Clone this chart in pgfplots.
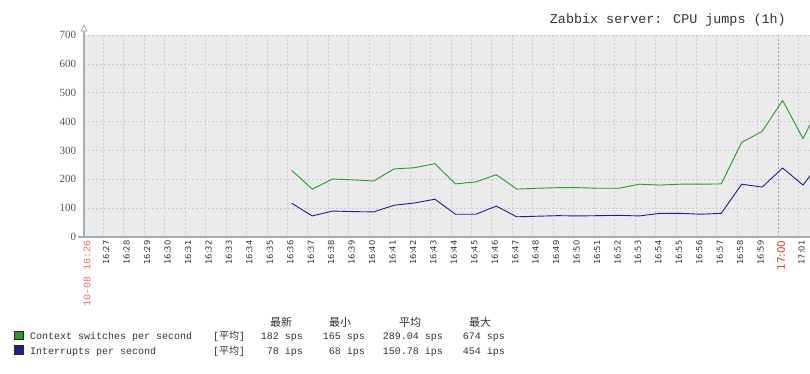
\documentclass[border=0pt]{standalone}
\usepackage{pgfplots}
\pgfplotsset{compat=1.18}
\usepackage{fontspec}
\setmainfont{Liberation Sans}
\newfontfamily\mono{Liberation Mono}
\newfontfamily\serifn{Liberation Serif}
\newfontfamily\dejavu{DejaVu Sans}
\newfontfamily\cjk{Noto Sans CJK SC}
\definecolor{bgc}{HTML}{EBEBEB}
\definecolor{gridc}{HTML}{C6CED4}
\definecolor{gridd}{HTML}{9AA4AC}
\definecolor{axc}{HTML}{A3ADB5}
\definecolor{greenc}{HTML}{1FA01F}
\definecolor{bluec}{HTML}{1C1C9E}
\definecolor{redl}{HTML}{F06A6A}
\definecolor{redd}{HTML}{E83535}
\definecolor{txt}{HTML}{333333}
\definecolor{ytxt}{HTML}{555555}
\begin{document}
\begin{tikzpicture}[x=1pt,y=1pt]
\useasboundingbox (0,0) rectangle (810,373);
\begin{axis}[
  name=ax,
  at={(84pt,136pt)}, anchor=south west,
  scale only axis, width=726pt, height=202pt,
  xmin=0.06, xmax=35.56, ymin=0, ymax=700,
  axis line style={draw=none},
  axis background/.style={fill=bgc},
  major tick length=0pt,
  grid=major,
  major grid style={draw=gridc, dash pattern=on 2pt off 2pt, line width=0.6pt},
  xtick={0.06,1,2,3,4,5,6,7,8,9,10,11,12,13,14,15,16,17,18,19,20,21,22,23,24,25,26,27,28,29,30,31,32,33,35},
  xticklabels={{\color{redl}\mono\fontsize{10}{11}\selectfont 10-08 16:26},16:27,16:28,16:29,16:30,16:31,16:32,16:33,16:34,16:35,16:36,16:37,16:38,16:39,16:40,16:41,16:42,16:43,16:44,16:45,16:46,16:47,16:48,16:49,16:50,16:51,16:52,16:53,16:54,16:55,16:56,16:57,16:58,16:59,17:01},
  xticklabel style={rotate=90, anchor=east, yshift=-3pt, text=txt, font=\dejavu\fontsize{8.3}{9}\selectfont},
  extra x ticks={34},
  extra x tick labels={17:00},
  extra x tick style={grid=major, major grid style={draw=gridd, dash pattern=on 2pt off 2pt, line width=0.6pt},
    xticklabel style={text=redd, font=\dejavu\fontsize{10.4}{11}\selectfont}},
  ytick={0,100,...,700},
  yticklabel style={anchor=east, xshift=-4.3pt, text=ytxt, font=\serifn\fontsize{11}{12}\selectfont, /pgf/number format/assume math mode=true},
]
\addplot[color=greenc, line width=0.9pt] coordinates {
(10.22,231)(11.22,166)(12.22,201)(13.22,198)(14.22,194)(15.22,236)(16.22,240)(17.22,254)(18.22,184)(19.22,191)(20.22,216)(21.22,166)(22.22,169)(23.22,171)(24.22,171)(25.22,169)(26.22,169)(27.22,183)(28.22,180)(29.22,183)(30.22,183)(31.22,184)(32.22,328)(33.22,366)(34.22,473)(35.22,341)(36.22,485)};
\addplot[color=bluec, line width=0.9pt] coordinates {
(10.22,117)(11.22,73)(12.22,90)(13.22,88)(14.22,87)(15.22,110)(16.22,118)(17.22,131)(18.22,79)(19.22,79)(20.22,107)(21.22,70)(22.22,72)(23.22,74)(24.22,73)(25.22,74)(26.22,75)(27.22,73)(28.22,82)(29.22,82)(30.22,79)(31.22,82)(32.22,183)(33.22,173)(34.22,239)(35.22,180)(36.22,275)};
\end{axis}
% axis lines
\draw[axc, line width=1.2pt] (78,136) -- (810,136);
\draw[axc, line width=1.2pt] (84,136) -- (84,342);
\draw[axc, line width=0.8pt, fill=white] (81,342) -- (87,342) -- (84,348) -- cycle;
% title
\node[anchor=base east, inner sep=0, text=txt, font=\mono\fontsize{13.4}{14}\selectfont] at (786,349) {Zabbix server: CPU jumps (1h)};
% legend
\draw[fill=greenc, draw=black!85, line width=0.8pt] (14.5,33.5) rectangle (23.5,42);
\draw[fill=bluec, draw=black!85, line width=0.8pt] (14.5,19) rectangle (23.5,27.5);
\begin{scope}[every node/.style={inner sep=0, text=txt, font=\mono\fontsize{10}{11}\selectfont}]
\node[anchor=base] at (281,47) {\cjk\fontsize{11}{12}\selectfont 最新};
\node[anchor=base] at (340,47) {\cjk\fontsize{11}{12}\selectfont 最小};
\node[anchor=base] at (410,47) {\cjk\fontsize{11}{12}\selectfont 平均};
\node[anchor=base] at (480,47) {\cjk\fontsize{11}{12}\selectfont 最大};
\node[anchor=base west] at (30,34) {Context switches per second};
\node[anchor=base west] at (213,34) {[{\cjk 平均}]};
\node[anchor=base east] at (303,34) {182 sps};
\node[anchor=base east] at (365,34) {165 sps};
\node[anchor=base east] at (443,34) {289.04 sps};
\node[anchor=base east] at (505,34) {674 sps};
\node[anchor=base west] at (30,19) {Interrupts per second};
\node[anchor=base west] at (213,19) {[{\cjk 平均}]};
\node[anchor=base east] at (303,19) {78 ips};
\node[anchor=base east] at (365,19) {68 ips};
\node[anchor=base east] at (443,19) {150.78 ips};
\node[anchor=base east] at (505,19) {454 ips};
\end{scope}
\end{tikzpicture}
\end{document}
